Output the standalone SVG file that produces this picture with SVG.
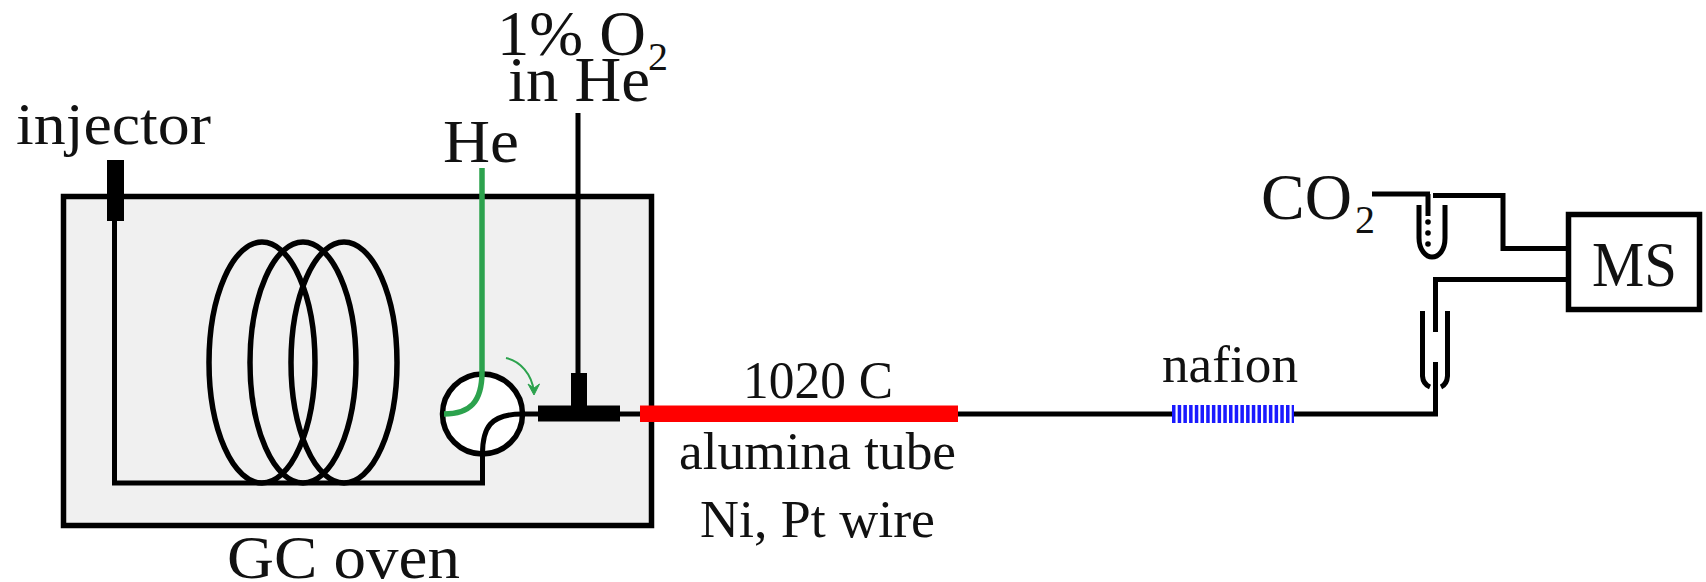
<svg xmlns="http://www.w3.org/2000/svg" width="1706" height="582" viewBox="0 0 1706 582">
<style>
text{font-family:"Liberation Serif","Times New Roman",serif;fill:#111}
.p{fill:none;stroke:#000;stroke-width:5}
.k{fill:none;stroke:#000;stroke-width:5.500}
.s{font-size:40px}
.m{font-size:53px}
</style>
<rect width="1706" height="582" fill="#fff"/>
<g id="oven">
<rect x="63.500" y="196.500" width="588" height="329" fill="#f0f0f0" stroke="#000" stroke-width="5.500"/>
<text x="227" y="578" font-size="62" textLength="233" lengthAdjust="spacingAndGlyphs">GC oven</text>
</g>
<g id="coil">
<ellipse class="k" cx="262" cy="362.500" rx="53" ry="120.500"/>
<ellipse class="k" cx="303" cy="362.500" rx="53" ry="120.500"/>
<ellipse class="k" cx="344" cy="362.500" rx="53" ry="120.500"/>
</g>
<g id="valve">
<circle cx="482.500" cy="414" r="40" fill="#fff" stroke="#000" stroke-width="5.500"/>
</g>
<g id="connectors">
<path class="p" d="M114.500 215V483H482.500V454"/>
<path class="p" d="M482.500 454C482.500 428 490 414 522 414H540"/>
<path class="p" d="M578 113V375"/>
<path class="p" d="M620 414H642"/>
<path class="p" d="M955 414H1172M1293 414H1435.500V362"/>
<path class="p" d="M1435.500 332V279.500H1568"/>
<path class="p" d="M1372 194H1430"/>
<path class="p" d="M1433 195.500H1503V248.500H1568"/>
<path d="M482 168V372C482 402 470 414 444 414" fill="none" stroke="#2ca24d" stroke-width="5.500"/>
<path d="M506 358C520 361 532 374 534 392" fill="none" stroke="#2ca24d" stroke-width="2"/>
<path d="M528 384L534 395L539.500 384L534 388Z" fill="#2ca24d" stroke="#2ca24d"/>
</g>
<g id="injector">
<rect x="107" y="160" width="17" height="61" fill="#000"/>
<text x="16" y="144" font-size="60" textLength="195" lengthAdjust="spacingAndGlyphs">injector</text>
</g>
<g id="he">
<text x="443" y="162" font-size="62" textLength="76" lengthAdjust="spacingAndGlyphs">He</text>
</g>
<g id="o2">
<text x="497" y="55" font-size="64" textLength="149" lengthAdjust="spacingAndGlyphs">1% O</text>
<text class="s" x="648" y="70">2</text>
<text x="508" y="101" font-size="64" textLength="142" lengthAdjust="spacingAndGlyphs">in He</text>
</g>
<g id="tee">
<rect x="538" y="405.500" width="82" height="16" fill="#000"/>
<rect x="571" y="373" width="16" height="40" fill="#000"/>
</g>
<g id="furnace">
<rect x="640" y="405.500" width="318" height="16.500" fill="#f00"/>
<text class="m" x="743" y="398" textLength="150" lengthAdjust="spacingAndGlyphs">1020 C</text>
<text class="m" x="679" y="469" textLength="277" lengthAdjust="spacingAndGlyphs">alumina tube</text>
<text class="m" x="700" y="537" textLength="235" lengthAdjust="spacingAndGlyphs">Ni, Pt wire</text>
</g>
<g id="nafion">
<line x1="1172" y1="414" x2="1294" y2="414" stroke="#1a1aff" stroke-width="18" stroke-dasharray="3.500 2.200"/>
<text class="m" x="1162" y="382" textLength="136" lengthAdjust="spacingAndGlyphs">nafion</text>
</g>
<g id="splitter">
<path d="M1422.500 311V376Q1423 384 1430 387M1447.500 311V376Q1447 384 1441 387" fill="none" stroke="#000" stroke-width="5"/>
</g>
<g id="co2">
<text x="1261" y="219" font-size="66" textLength="91" lengthAdjust="spacingAndGlyphs">CO</text>
<text class="s" x="1355" y="233">2</text>
<path d="M1419 205V238C1419 250 1426 257 1432 257C1439 257 1445 250 1445 238V205" fill="none" stroke="#000" stroke-width="5"/>
<path d="M1428 194V216" class="p"/>
<circle cx="1428" cy="222" r="2.800"/><circle cx="1428" cy="233" r="2.800"/><circle cx="1428" cy="244" r="2.800"/>
</g>
<g id="ms">
<rect x="1568.500" y="214.500" width="131" height="95" fill="#fff" stroke="#000" stroke-width="5.500"/>
<text x="1592" y="286" font-size="64" textLength="85" lengthAdjust="spacingAndGlyphs">MS</text>
</g>
</svg>
